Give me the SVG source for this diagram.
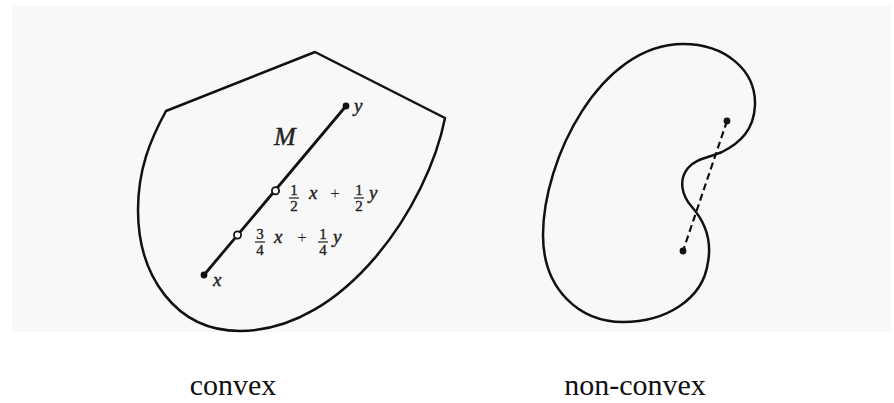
<svg xmlns="http://www.w3.org/2000/svg" width="894" height="403" viewBox="0 0 894 403">
<style>
.outline{fill:none;stroke:#111;stroke-width:2.5;stroke-linejoin:round}
.seg{stroke:#111;stroke-width:2.8;stroke-linecap:round}
.dash{stroke:#111;stroke-width:2.2;stroke-dasharray:7,4}
.dot{fill:#111}
.open{fill:#fff;stroke:#111;stroke-width:1.8}
.m{font-family:"Liberation Serif",serif;font-style:italic;fill:#222;stroke:#222;stroke-width:0.4}
.d{font-family:"Liberation Serif",serif;font-size:15px;fill:#222;stroke:#222;stroke-width:0.35;text-anchor:middle}
.p{font-family:"Liberation Serif",serif;font-size:17px;fill:#222;text-anchor:middle}
.bar{stroke:#222;stroke-width:1.2}
.cap{font-family:"Liberation Serif",serif;font-size:30px;fill:#111;text-anchor:middle}
</style>
<rect x="12" y="6" width="879" height="326" fill="#f8f8f8"/>
<g id="convex">
<path class="outline" d="M166,111 L315,52 L445,118 C428,205 345,331 240,331 C175,331 138,275 138,210 C138,170 150,140 166,111 Z"/>
<line class="seg" x1="204" y1="275" x2="346" y2="106"/>
<circle class="dot" cx="204" cy="275" r="3.4"/>
<circle class="dot" cx="346" cy="106" r="3.4"/>
<circle class="open" cx="275.5" cy="190.7" r="3.6"/>
<circle class="open" cx="237.5" cy="235" r="3.6"/>
<text class="m" x="274" y="145" font-size="26">M</text>
<text class="m" x="354" y="112" font-size="19">y</text>
<text class="m" x="213" y="286" font-size="19">x</text>
<text class="d" x="294" y="195">1</text>
<line class="bar" x1="289" y1="198" x2="299" y2="198"/>
<text class="d" x="294" y="211">2</text>
<text class="m" x="309" y="199" font-size="19">x</text>
<text class="p" x="335" y="199">+</text>
<text class="d" x="359" y="195">1</text>
<line class="bar" x1="354" y1="198" x2="364" y2="198"/>
<text class="d" x="359" y="211">2</text>
<text class="m" x="369" y="199" font-size="19">y</text>
<text class="d" x="260" y="239">3</text>
<line class="bar" x1="255" y1="242" x2="265" y2="242"/>
<text class="d" x="260" y="255">4</text>
<text class="m" x="274" y="243" font-size="19">x</text>
<text class="p" x="302" y="243">+</text>
<text class="d" x="323" y="239">1</text>
<line class="bar" x1="318" y1="242" x2="328" y2="242"/>
<text class="d" x="323" y="255">4</text>
<text class="m" x="333" y="243" font-size="19">y</text>
</g>
<g id="nonconvex">
<path class="outline" d="M683,44 C725,44 756,70 755,105 C754,130 740,143 722,152 C708,158 697,158 688,168 C678,180 682,196 692,207 C705,222 712,240 708,262 C703,300 665,322 623,322 C580,322 543,290 543,235 C543,160 600,44 683,44 Z"/>
</g>
<g id="connectors">
<line class="dash" x1="727" y1="121" x2="683" y2="251"/>
<circle class="dot" cx="727" cy="121" r="3.4"/>
<circle class="dot" cx="683" cy="251" r="3.4"/>
</g>
<text class="cap" x="233" y="395">convex</text>
<text class="cap" x="635" y="395">non-convex</text>
</svg>
